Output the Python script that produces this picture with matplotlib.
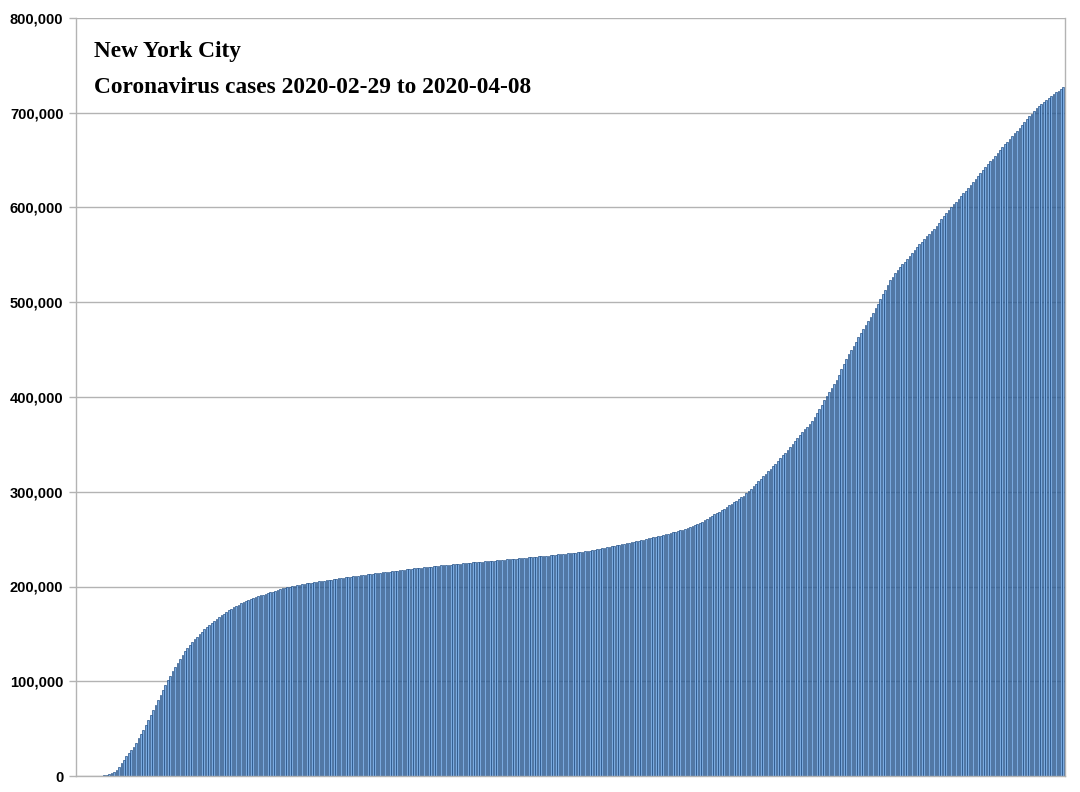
import matplotlib
matplotlib.use("Agg")
import matplotlib.pyplot as plt
from matplotlib.ticker import FuncFormatter

# Cumulative cases (thousands), one value per day
cases_thousands = [
    0, 0.001, 0.001, 0.002, 0.003, 0.004, 0.011, 0.012, 0.019, 0.2,
    0.4, 0.8, 1.3, 2.0, 3.0, 4.5, 6.8, 10.0, 13.7, 17.2,
    20.6, 23.9, 27.3, 31.0, 35.3, 39.8, 44.2, 49.0, 54.0, 59.2,
    64.5, 69.9, 75.3, 80.7, 86.0, 91.2, 96.3, 101.2, 106.0, 110.7,
    115.3, 119.7, 124.0, 128.2, 131.6, 134.9, 138.1, 141.1, 144.1, 147.0,
    149.8, 152.5, 154.8, 157.0, 159.1, 161.1, 163.3, 165.5, 167.6, 169.6,
    171.5, 173.3, 175.0, 176.6, 178.1, 179.6, 181.0, 182.4, 183.6, 184.7,
    185.8, 186.8, 187.8, 188.8, 189.8, 190.7, 191.5, 192.3, 193.1, 193.8,
    194.6, 195.5, 196.4, 197.4, 198.1, 198.8, 199.4, 200.0, 200.5, 201.0,
    201.5, 202.0, 202.5, 202.9, 203.3, 203.7, 204.1, 204.5, 204.9, 205.3,
    205.7, 206.1, 206.5, 206.9, 207.3, 207.7, 208.1, 208.5, 208.8, 209.2,
    209.5, 209.9, 210.3, 210.6, 211.0, 211.3, 211.7, 212.0, 212.4, 212.8,
    213.1, 213.4, 213.8, 214.1, 214.4, 214.8, 215.1, 215.4, 215.8, 216.1,
    216.4, 216.8, 217.1, 217.4, 217.7, 218.0, 218.3, 218.7, 219.0, 219.3,
    219.6, 219.9, 220.2, 220.5, 220.8, 221.1, 221.4, 221.7, 222.0, 222.2,
    222.5, 222.7, 223.0, 223.2, 223.5, 223.7, 224.0, 224.2, 224.5, 224.7,
    224.9, 225.2, 225.4, 225.6, 225.9, 226.1, 226.3, 226.5, 226.7, 227.0,
    227.2, 227.4, 227.6, 227.8, 228.0, 228.2, 228.5, 228.7, 229.0, 229.2,
    229.5, 229.7, 230.0, 230.2, 230.5, 230.7, 231.0, 231.2, 231.5, 231.7,
    231.9, 232.2, 232.5, 232.7, 233.0, 233.3, 233.5, 233.8, 234.1, 234.4,
    234.7, 235.0, 235.2, 235.5, 235.8, 236.1, 236.4, 236.8, 237.1, 237.5,
    237.9, 238.3, 238.7, 239.2, 239.7, 240.2, 240.7, 241.3, 241.9, 242.4,
    242.9, 243.4, 243.9, 244.4, 244.9, 245.5, 246.0, 246.6, 247.1, 247.7,
    248.3, 248.9, 249.5, 250.1, 250.7, 251.3, 251.9, 252.5, 253.1, 253.7,
    254.4, 255.1, 255.8, 256.5, 257.2, 257.9, 258.6, 259.3, 260.1, 260.9,
    261.8, 262.8, 263.8, 264.9, 266.1, 267.3, 268.6, 270.0, 271.4, 273.0,
    274.5, 276.0, 277.5, 279.0, 280.6, 282.2, 283.8, 285.5, 287.2, 288.9,
    290.6, 292.4, 294.2, 296.0, 298.3, 300.8, 303.4, 306.0, 308.6, 311.2,
    313.8, 316.4, 319.0, 321.7, 324.4, 327.1, 329.8, 332.6, 335.4, 338.3,
    341.2, 344.2, 347.2, 350.2, 353.2, 356.3, 359.4, 362.6, 365.7, 368.8,
    371.9, 375.0, 378.8, 382.8, 387.2, 391.8, 396.5, 401.0, 405.2, 409.3,
    413.4, 418.0, 423.5, 429.2, 435.0, 440.5, 445.2, 449.6, 454.0, 458.4,
    462.8, 467.2, 471.5, 475.8, 480.0, 484.4, 488.9, 493.6, 498.4, 503.3,
    508.3, 513.4, 518.4, 523.0, 527.0, 530.6, 533.9, 537.0, 540.0, 543.0,
    546.1, 549.2, 552.3, 555.4, 558.5, 561.3, 564.1, 566.8, 569.5, 572.2,
    574.9, 577.6, 580.8, 584.1, 587.4, 590.7, 594.0, 597.3, 600.5, 603.4,
    606.3, 609.2, 612.0, 614.8, 617.6, 620.7, 623.8, 626.9, 630.0, 633.1,
    636.2, 639.3, 642.4, 645.5, 648.6, 651.6, 654.7, 657.8, 660.8, 663.7,
    666.6, 669.5, 672.4, 675.3, 678.2, 681.1, 684.1, 687.1, 690.1, 693.1,
    696.1, 699.1, 702.1, 704.5, 706.8, 709.1, 711.4, 713.6, 715.8, 717.9,
    719.8, 721.6, 723.4, 725.1, 726.8,
]
cases = [v * 1000 for v in cases_thousands]
days = list(range(len(cases)))

title_line1 = "New York City"
title_line2 = "Coronavirus cases 2020-02-29 to 2020-04-08"
y_ticks = [0, 100000, 200000, 300000, 400000, 500000, 600000, 700000, 800000]

fig = plt.figure(figsize=(10.8, 7.92), dpi=100)
ax = fig.add_axes([76 / 1080, 1 - 776 / 792, (1065 - 76) / 1080, (776 - 18) / 792])

edge_colors = ["#13427a" if c > 0.5 else "none" for c in cases_thousands]
ax.bar(days, cases, width=0.7, color="#7aaae0", edgecolor=edge_colors,
       linewidth=0.45, zorder=2)

ax.set_xlim(-0.6, len(cases) - 0.3)
ax.set_ylim(0, 800000)
ax.set_yticks(y_ticks)
ax.yaxis.set_major_formatter(FuncFormatter(lambda v, p: f"{int(v):,}"))
ax.set_xticks([])
ax.grid(axis="y", color="#b3b3b3", linewidth=1.0, zorder=1)
ax.set_axisbelow(True)

for side in ["left", "right", "bottom"]:
    ax.spines[side].set_color("#b3b3b3")
    ax.spines[side].set_linewidth(1.0)
ax.spines["top"].set_visible(False)
ax.tick_params(axis="y", length=5, width=1.0, color="#b3b3b3", pad=4,
               labelsize=10.5)
for lab in ax.get_yticklabels():
    lab.set_fontfamily("Liberation Sans")
    lab.set_fontweight("bold")

fig.text(94 / 1080, 1 - 57 / 792, title_line1, fontsize=16.8,
         fontfamily="Liberation Serif", fontweight="bold", ha="left",
         va="baseline")
fig.text(94 / 1080, 1 - 93 / 792, title_line2, fontsize=16.8,
         fontfamily="Liberation Serif", fontweight="bold", ha="left",
         va="baseline")

fig.savefig("out.png", dpi=100)
